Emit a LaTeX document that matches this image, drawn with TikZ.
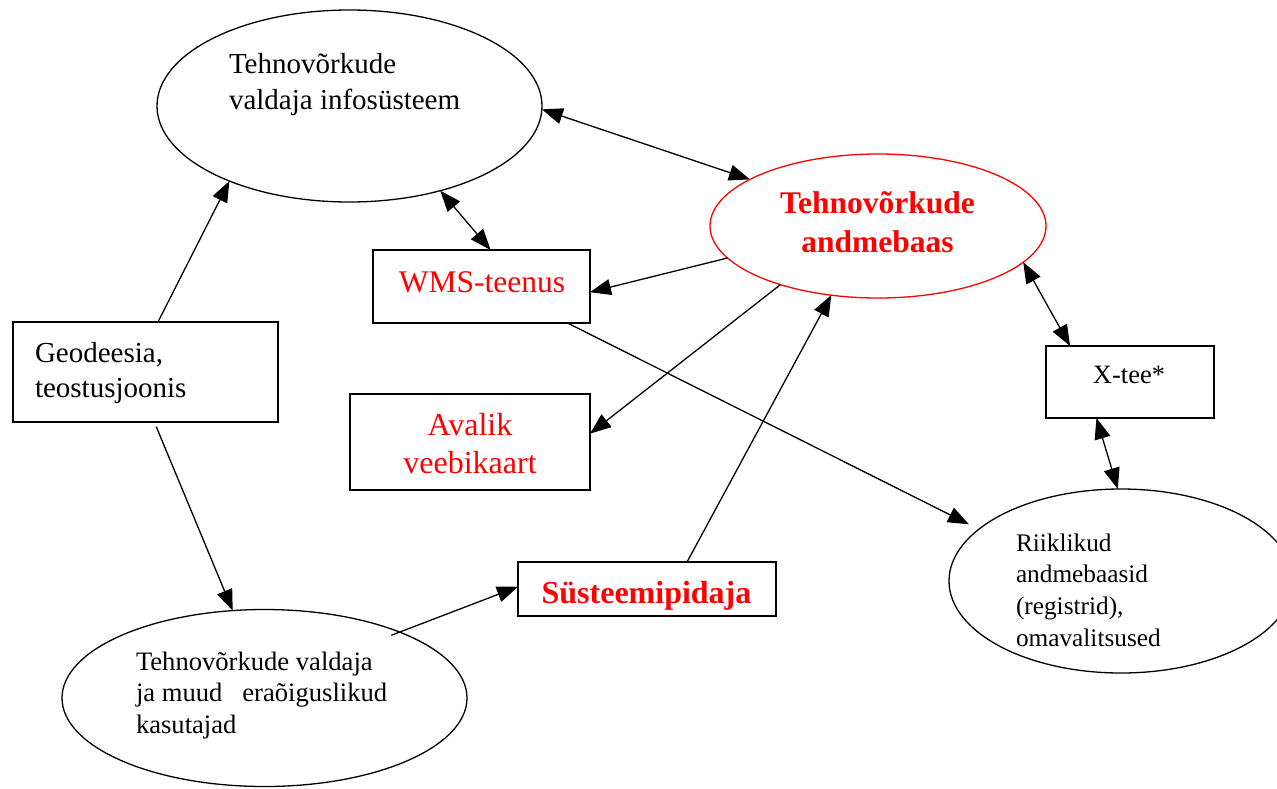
\documentclass[tikz,border=0pt]{standalone}
\usepackage{fontspec}
\setmainfont{Liberation Serif}
\usetikzlibrary{shapes.geometric,arrows.meta}
\begin{document}
\begin{tikzpicture}[x=1pt,y=-1pt,
  ell/.style={ellipse,draw,line width=1.3pt,inner sep=0pt,outer sep=0pt},
  rbox/.style={rectangle,draw,line width=1.3pt,inner sep=0pt,outer sep=0pt},
  lbl/.style={inner sep=0pt,outer sep=0pt},
  conn/.style={line width=1.3pt,-{Triangle[length=21pt,width=16pt]}},
  dconn/.style={line width=1.3pt,{Triangle[length=21pt,width=16pt]}-{Triangle[length=21pt,width=16pt]}}]
\useasboundingbox (0,0) rectangle (1277,788);
\fill[white] (0,0) rectangle (1277,788);
% shapes
\node[ell,minimum width=385pt,minimum height=192pt] (e1) at (349.5,106) {};
\node[ell,draw=red,minimum width=336pt,minimum height=144pt] (e2) at (878,226) {};
\node[ell,minimum width=344pt,minimum height=184pt] (e3) at (1121,581) {};
\node[ell,minimum width=405pt,minimum height=177pt] (e4) at (264.5,698) {};
\node[rbox,minimum width=217pt,minimum height=73pt] (wms) at (481.5,286.5) {};
\node[rbox,minimum width=265pt,minimum height=100pt] (geo) at (145.5,372) {};
\node[rbox,minimum width=240pt,minimum height=96pt] (avalik) at (470,442) {};
\node[rbox,minimum width=168pt,minimum height=72pt] (xtee) at (1130,382) {};
\node[rbox,minimum width=258pt,minimum height=54pt] (sys) at (647,589) {};
% texts
\node[lbl,anchor=base west] (t1) at (229,73) {\fontsize{29}{36}\selectfont\begin{tabular}[t]{@{}l@{}}Tehnovõrkude\\valdaja infosüsteem\end{tabular}};
\node[lbl,anchor=base,text=red] (t2) at (877.5,213) {\fontsize{31.5}{39}\selectfont\bfseries\begin{tabular}[t]{@{}c@{}}Tehnovõrkude\\andmebaas\end{tabular}};
\node[lbl,anchor=base,text=red] (twms) at (482,292) {\fontsize{31.5}{38}\selectfont WMS-teenus};
\node[lbl,anchor=base west] (tgeo) at (35,362) {\fontsize{29}{35}\selectfont\begin{tabular}[t]{@{}l@{}}Geodeesia,\\teostusjoonis\end{tabular}};
\node[lbl,anchor=base,text=red] (tavalik) at (470,435) {\fontsize{32}{38}\selectfont\begin{tabular}[t]{@{}c@{}}Avalik\\veebikaart\end{tabular}};
\node[lbl,anchor=base] (txtee) at (1129,383) {\fontsize{26.5}{32}\selectfont X-tee*};
\node[lbl,anchor=base,text=red] (tsys) at (646.5,603) {\fontsize{32}{38}\selectfont\bfseries Süsteemipidaja};
\node[lbl,anchor=base west] (triik) at (1016,551) {\fontsize{25.3}{31.7}\selectfont\begin{tabular}[t]{@{}l@{}}Riiklikud\\andmebaasid\\(registrid),\\omavalitsused\end{tabular}};
\node[lbl,anchor=base west] (te4) at (136,670) {\fontsize{26.6}{31.5}\selectfont\begin{tabular}[t]{@{}l@{}}Tehnovõrkude valdaja\\ja muud\ \ \ eraõiguslikud\\kasutajad\end{tabular}};
% connectors
\draw[conn] (geo.76) -- (e1.212);
\draw[conn,shorten <=5pt] (geo.-80) -- (e4.110);
\draw[conn,shorten <=-9pt] (e4.26) -- (sys.179);
\draw[conn] (sys.34) -- (e2.-124);
\draw[conn] (e2.192) -- (wms.-3);
\draw[conn] (e2.211) -- (avalik.4);
\draw[dconn] (e1.-1) -- (e2.160);
\draw[dconn] (e1.-43) -- (wms.76);
\draw[conn,shorten >=11pt] (wms.-23) -- (e3.160);
\draw[dconn] (e2.-14) -- (xtee.149);
\draw[dconn] (xtee.-133) -- (e3.92);
\end{tikzpicture}
\end{document}
